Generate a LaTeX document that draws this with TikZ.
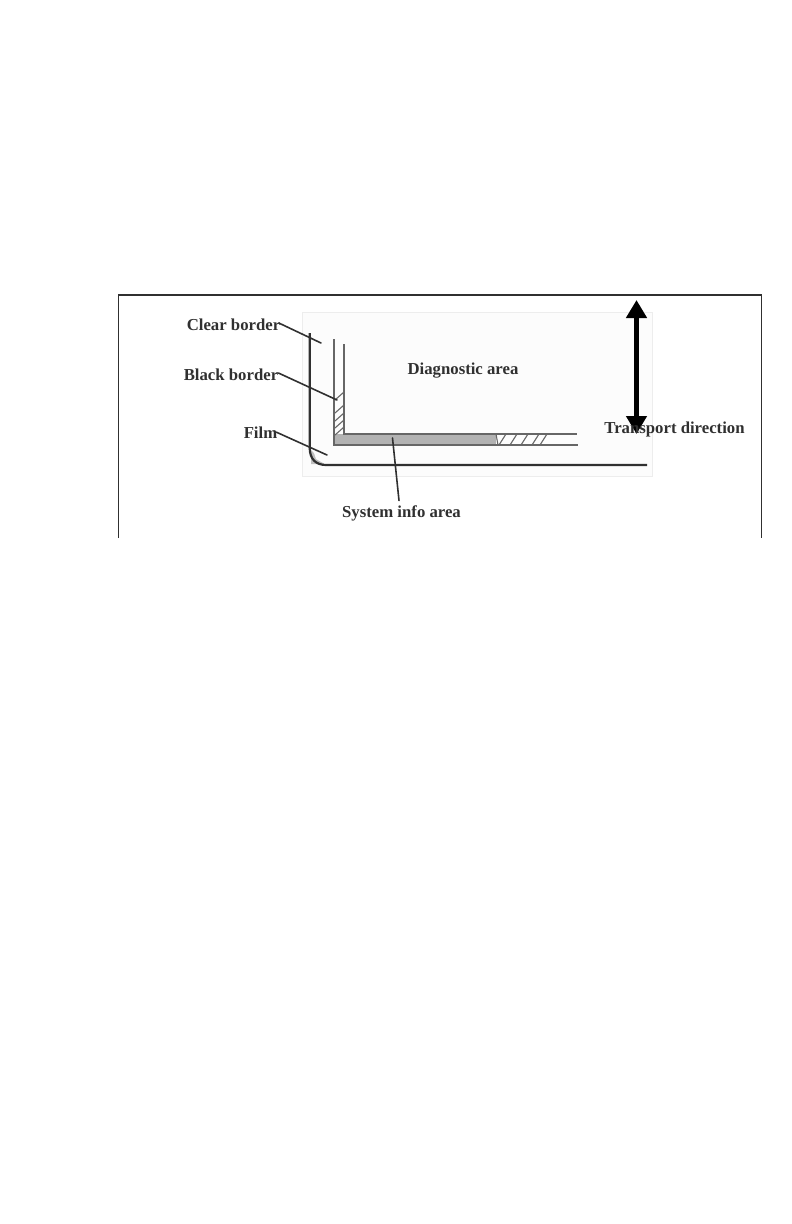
\documentclass[tikz,border=0pt]{standalone}
\usepackage{fontspec}
\setmainfont{Liberation Serif}
\usetikzlibrary{arrows.meta}
\definecolor{ink}{HTML}{303030}
\definecolor{thin}{HTML}{666666}
\tikzset{
  lbl/.style={inner sep=0pt,anchor=base,font=\bfseries\fontsize{16.8}{20}\selectfont,text=ink},
  leader/.style={draw=ink,line width=1.6pt,line cap=round},
  frameline/.style={draw=ink,line width=1.1pt},
  strip/.style={draw=thin,line width=1.3pt},
  hatchline/.style={draw=thin,line width=1.1pt},
  dir/.style={draw=black,line width=4.6pt,{Triangle[length=18bp,width=20bp]}-{Triangle[length=18bp,width=20bp]}}
}
\begin{document}
\begin{tikzpicture}[x=1bp,y=-1bp]
\useasboundingbox (0,0) rectangle (792,1224);
% outer frame, open at the bottom
\draw[frameline] (118.5,538) -- (118.5,295) -- (761.5,295) -- (761.5,538);
% pale sheet
\draw[draw=black!7,fill=black!1,line width=1pt] (302,312) rectangle (652,476);
% film corner wedge and outline
\fill[black!25] (311,450) -- (311,464) -- (325,464) -- cycle;
\fill[black!1] (313,450) -- (316,459) -- (325,464) -- (330,450) -- cycle;
\draw[draw=ink,line width=2.2pt] (309.7,333) -- (309.7,448) .. controls (309.7,459) and (316,465) .. (326,465) -- (647,465);
% gray band
\fill[black!30] (334,434) rectangle (496,445);
% hatching
\foreach \y in {392,405,413,420,427}
  \draw[hatchline] (335,\y+8) -- (344,\y);
\foreach \x in {499,510,521,532,540}
  \draw[hatchline] (\x,445) -- (\x+7,434);
\draw[hatchline] (496,434) -- (498,445);
% system info strips
\draw[strip] (334,339) -- (334,445) -- (578,445);
\draw[strip] (344,344) -- (344,434) -- (577,434);
% labels
\node[lbl] (clear) at (233.5,330) {Clear border};
\node[lbl] (black) at (231,380.7) {Black border};
\node[lbl] (film) at (260.5,438) {Film};
\node[lbl] (diag) at (463,374) {Diagnostic area};
\node[lbl] (sys) at (401.5,517.5) {System info area};
% direction arrow
\coordinate (dirtop) at (636.5,300);
\coordinate (dirbot) at (636.5,434);
\draw[dir] (dirtop) -- (dirbot);
\node[lbl] (trans) at (674.5,433.5) {Transport direction};
% leaders
\coordinate (clearend) at (321,343);
\coordinate (blackend) at (337,400);
\coordinate (filmend) at (327,455);
\coordinate (sysend) at (392.5,438);
\draw[leader] (clear.east) ++(-1,-1) -- (clearend);
\draw[leader] (black.east) ++(0,-2) -- (blackend);
\draw[leader] (film.east) ++(-1,0) -- (filmend);
\draw[leader] (sys.north) ++(-2.5,-5) -- (sysend);
\end{tikzpicture}
\end{document}
